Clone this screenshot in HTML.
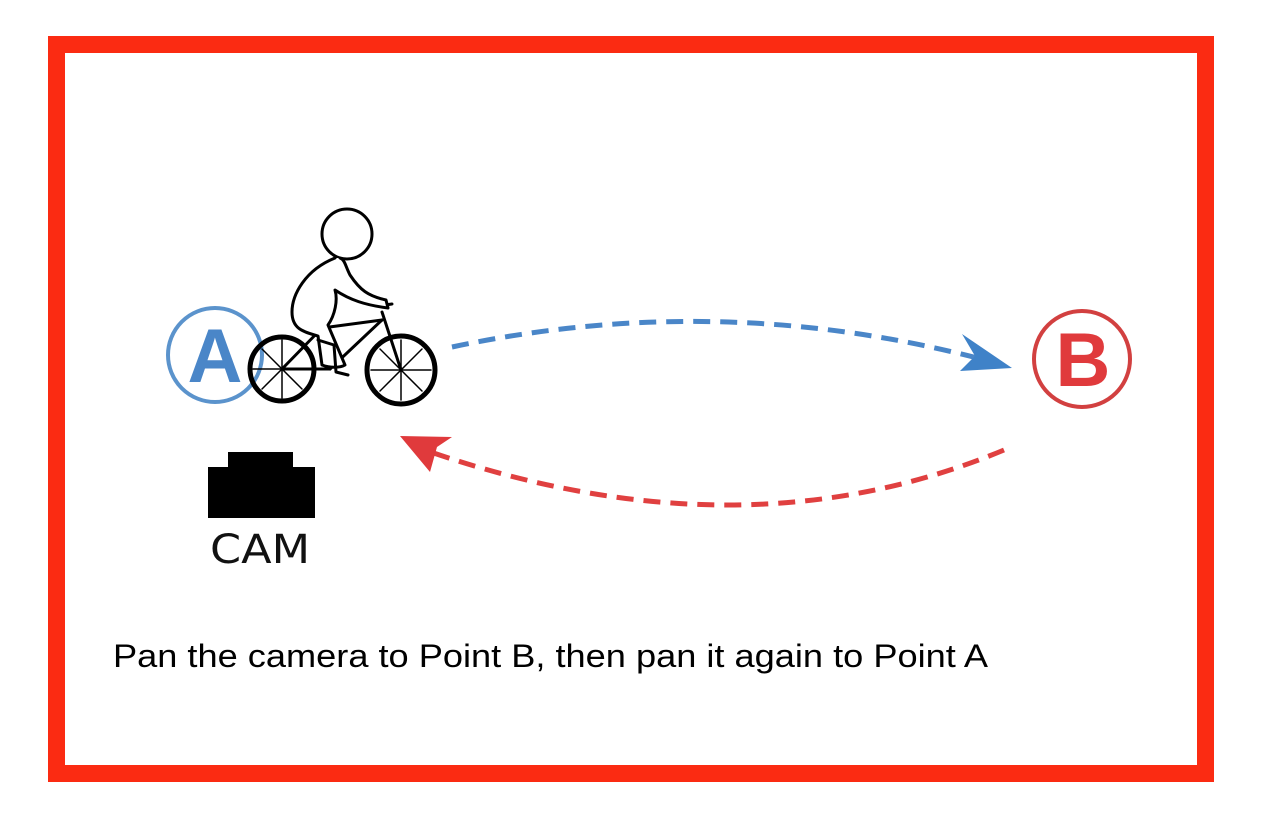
<!DOCTYPE html>
<html><head><meta charset="utf-8"><style>
html,body{margin:0;padding:0;background:#fff;width:1280px;height:830px;overflow:hidden}
</style></head><body>
<svg width="1280" height="830" viewBox="0 0 1280 830" xmlns="http://www.w3.org/2000/svg">
<rect x="56.5" y="44.5" width="1149" height="729" fill="#fff" stroke="#fb2b12" stroke-width="17"/>
<circle cx="215" cy="355" r="47" fill="#fff" stroke="#5b93cc" stroke-width="4"/>
<text x="215" y="382" text-anchor="middle" font-family="Liberation Sans, sans-serif" font-weight="bold" font-size="76" fill="#4a86c8">A</text>
<circle cx="1082" cy="359" r="48" fill="#fff" stroke="#d24040" stroke-width="4"/>
<text x="1083" y="386" text-anchor="middle" font-family="Liberation Sans, sans-serif" font-weight="bold" font-size="76" fill="#e03a3c">B</text>
<g stroke="#000" fill="none" stroke-linecap="round" stroke-linejoin="round">
<circle cx="282" cy="369" r="32" stroke-width="5"/>
<circle cx="401" cy="370" r="34" stroke-width="5"/>
<g stroke-width="1.5">
<line x1="282" y1="340" x2="282" y2="398"/><line x1="253" y1="369" x2="311" y2="369"/>
<line x1="262" y1="349" x2="302" y2="389"/><line x1="262" y1="389" x2="302" y2="349"/>
<line x1="401" y1="340" x2="401" y2="400"/><line x1="371" y1="370" x2="431" y2="370"/>
<line x1="380" y1="349" x2="422" y2="391"/><line x1="380" y1="391" x2="422" y2="349"/>
</g>
<g stroke-width="3">
<line x1="282" y1="369" x2="322" y2="328"/>
<line x1="282" y1="369" x2="330" y2="369"/>
<line x1="330" y1="369" x2="382" y2="320"/>
<line x1="322" y1="328" x2="382" y2="320"/>
<line x1="322" y1="328" x2="330" y2="369"/>
<line x1="382" y1="312" x2="401" y2="370"/>
<line x1="378" y1="306" x2="392" y2="304"/>
</g>
<circle cx="347" cy="234" r="25" stroke-width="3" fill="#fff"/>
<path d="M335 258 C305 270 292 295 292 312 C292 330 305 332 318 336 L322 365 C330 368 340 368 345 365 L328 325 C335 315 338 300 335 290 C350 300 365 305 388 308 L386 300 C368 296 360 290 350 275 C345 265 345 260 340 258" stroke-width="3" fill="#fff"/>
<path d="M318 340 L334 345 L336 372 L348 375" stroke-width="3"/>
</g>
<path d="M228 452 H293 V467 H315 V518 H208 V467 H228 Z" fill="#000"/>
<text x="210" y="563" textLength="100" lengthAdjust="spacingAndGlyphs" font-family="DejaVu Sans, Liberation Sans, sans-serif" font-size="40" fill="#111">CAM</text>
<path d="M452 347 Q720 290 985 360" fill="none" stroke="#4a86c8" stroke-width="5" stroke-dasharray="17 10"/>
<path d="M962 334 L1012 368 L960 371 L975 356 Z" fill="#3f82c8"/>
<path d="M1004 450 Q740 560 425 450" fill="none" stroke="#e04040" stroke-width="5" stroke-dasharray="17 10"/>
<path d="M400 436 L452 437 L437 447 L430 472 Z" fill="#e03a3c"/>
<text x="113" y="667" textLength="875" lengthAdjust="spacingAndGlyphs" font-family="Liberation Sans, Arial, sans-serif" font-size="32" fill="#000">Pan the camera to Point B, then pan it again to Point A</text>
</svg>
</body></html>
